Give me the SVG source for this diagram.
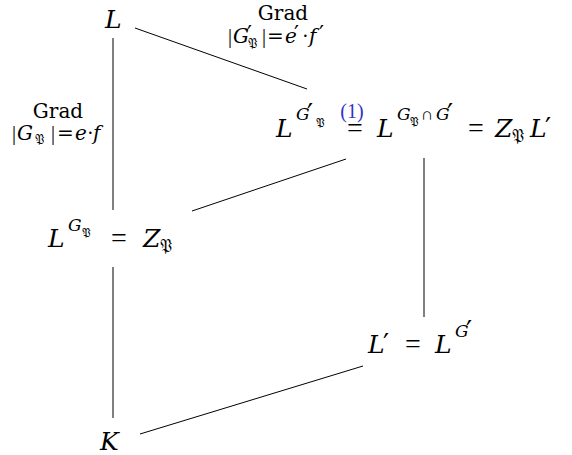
<svg xmlns="http://www.w3.org/2000/svg" width="572" height="455" viewBox="0 0 572 455">
<style>
text{font-family:"DejaVu Serif","Liberation Serif",serif;fill:#000}
.m{font-size:25px}
.i{font-style:italic}
.sp{font-size:17px}
.ss{font-size:12px}
.lb{font-size:20px}
.lbs{font-size:13px}
.pr{font-size:27px}
.lpr{font-size:22px}
.eq{font-family:"Liberation Serif",serif;font-size:28px}
.lr{font-family:"Liberation Serif",serif}
.blue{fill:#3232c8;font-family:"Liberation Serif",serif;font-size:20px}
line{stroke:#000;stroke-width:1}
</style>
<rect width="572" height="455" fill="#fff"/>
<g id="connectors">
<line x1="113" y1="38" x2="113" y2="210"/>
<line x1="113" y1="267" x2="113" y2="418"/>
<line x1="135" y1="28" x2="307" y2="89"/>
<line x1="192" y1="211" x2="346" y2="159"/>
<line x1="424" y1="158" x2="424" y2="317"/>
<line x1="140" y1="434" x2="363" y2="366"/>
</g>
<g id="label-left">
<text class="lb" x="58" y="118" text-anchor="middle">Grad</text>
<text class="lb lr" x="12" y="140">|</text>
<text class="lb i" x="17" y="140">G</text>
<text class="lbs" x="35" y="144">𝔓</text>
<text class="lb lr" x="51" y="140">|</text>
<text class="lb" x="57" y="140">=</text>
<text class="lb i" x="75" y="140">e</text>
<text class="lb lr" x="87" y="140">·</text>
<text class="lb i" x="93" y="140">f</text>
</g>
<g id="label-top">
<text class="lb" x="283" y="20" text-anchor="middle">Grad</text>
<text class="lb lr" x="228" y="43">|</text>
<text class="lb i" x="233" y="43">G</text>
<text class="lpr" x="247" y="41">′</text>
<text class="lbs" x="248" y="48">𝔓</text>
<text class="lb lr" x="262" y="43">|</text>
<text class="lb" x="267" y="43">=</text>
<text class="lb i" x="285" y="43">e</text>
<text class="lpr" x="294" y="41">′</text>
<text class="lb lr" x="302" y="43">·</text>
<text class="lb i" x="309" y="43">f</text>
<text class="lpr" x="319" y="41">′</text>
</g>
<g id="node-L">
<text class="m i" x="105" y="28">L</text>
</g>
<g id="node-right">
<text class="m i" x="276" y="137">L</text>
<text class="sp i" x="296" y="120">G</text>
<text class="pr" x="307" y="124">′</text>
<text class="ss" x="316" y="127">𝔓</text>
<text class="eq" x="347" y="137">=</text>
<text class="blue" x="352" y="118" text-anchor="middle">(1)</text>
<text class="m i" x="377" y="137">L</text>
<text class="sp i" x="397" y="120">G</text>
<text class="ss" x="410" y="126">𝔓</text>
<text class="sp lr" x="421" y="120">∩</text>
<text class="sp i" x="436" y="120">G</text>
<text class="pr" x="447" y="124">′</text>
<text class="eq" x="468" y="137">=</text>
<text class="m i" x="495" y="137">Z</text>
<text class="sp" x="512" y="142">𝔓</text>
<text class="m i" x="530" y="137">L</text>
<text class="pr" x="545" y="138">′</text>
</g>
<g id="node-mid-left">
<text class="m i" x="48" y="247">L</text>
<text class="sp i" x="68" y="231">G</text>
<text class="ss" x="82" y="237">𝔓</text>
<text class="eq" x="111" y="247">=</text>
<text class="m i" x="143" y="247">Z</text>
<text class="sp" x="160" y="252">𝔓</text>
</g>
<g id="node-Lprime">
<text class="m i" x="368" y="353">L</text>
<text class="pr" x="383" y="354">′</text>
<text class="eq" x="405" y="353">=</text>
<text class="m i" x="435" y="353">L</text>
<text class="sp i" x="455" y="337">G</text>
<text class="pr" x="466" y="341">′</text>
</g>
<g id="node-K">
<text class="m i" x="100" y="450">K</text>
</g>
</svg>
